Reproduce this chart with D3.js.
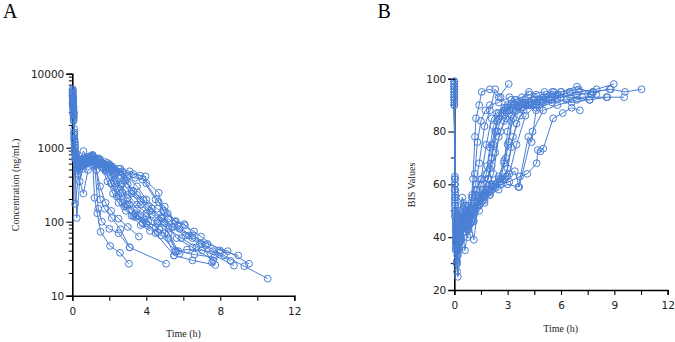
<!DOCTYPE html>
<html><head><meta charset="utf-8">
<script src="https://cdn.jsdelivr.net/npm/d3@7"></script>
<style>
html,body{margin:0;padding:0;background:#fff;}
svg{display:block;}
.tick text{font-family:"DejaVu Sans",sans-serif;font-size:10.5px;fill:#222;}
.title{font-family:"Liberation Serif","Times New Roman",serif;font-size:10px;fill:#222;}
.panel{font-family:"Liberation Serif","Times New Roman",serif;font-size:20px;fill:#000;}
</style></head>
<body>
<script>
// ---------- Panel A: concentration (ng/mL) vs time (h), one row per subject ----------
const pkTimes = [
 [0.02,0.05,0.1,0.2,0.35,0.5,0.7,0.9,1.1,1.2,1.35,1.53,2.04,2.58,3.06],
 [0.03,0.07,0.12,0.24,0.4,0.6,0.85,1.1,1.3,1.5,1.75,2.13,2.6,3.1,5.07],
 [0.02,0.06,0.1,0.15,0.4,0.6,0.8,1.0,1.2,1.4,1.6,2.0,2.5,3.1],
 [0.03,0.08,0.15,0.3,0.5,0.7,1.0,1.25,1.5,1.8,2.1,2.5,3.0,3.6],
 [0.02,0.05,0.1,0.2,0.4,0.6,0.9,1.2,1.5,1.8,2.04,2.3,2.7,3.2,3.7,4.2],
 [0.03,0.07,0.13,0.25,0.45,0.7,1.0,1.3,1.6,1.9,2.2,2.5,2.9,3.4,4.0,4.6],
 [0.02,0.06,0.12,0.2,0.35,0.6,0.9,1.2,1.5,1.8,2.1,2.4,2.8,3.3,3.8,4.5,5.5],
 [0.03,0.05,0.1,0.18,0.3,0.5,0.8,1.1,1.4,1.7,2.0,2.3,2.6,3.0,3.5,4.0,4.8,5.6],
 [0.02,0.07,0.14,0.3,0.6,0.9,1.2,1.5,1.9,2.3,2.7,3.1,3.6,4.1,4.7,5.2,5.8],
 [0.03,0.08,0.15,0.3,0.5,0.8,1.1,1.4,1.8,2.2,2.6,3.0,3.4,3.8,4.5,5.0,5.7,6.5],
 [0.02,0.06,0.12,0.25,0.5,0.8,1.1,1.5,2.0,2.6,3.1,3.66,4.67,4.9,5.55,6.09,6.58,6.96,7.98,8.97],
 [0.03,0.07,0.14,0.3,0.6,0.9,1.2,1.6,2.1,2.7,3.3,3.96,4.0,4.67,4.96,5.16,5.59,6.05,7.0,7.55],
 [0.02,0.05,0.1,0.2,0.4,0.7,1.0,1.3,1.7,2.1,2.5,2.9,3.3,3.85,4.3,5.0,5.64,6.5,7.62],
 [0.03,0.08,0.15,0.3,0.5,0.8,1.1,1.4,1.8,2.2,2.6,3.0,3.5,4.0,4.6,5.2,5.73,6.6,7.66],
 [0.02,0.06,0.12,0.25,0.5,0.75,1.0,1.3,1.7,2.1,2.5,2.9,3.4,3.9,4.5,5.0,5.5,6.5,7.73],
 [0.03,0.07,0.13,0.25,0.5,0.8,1.1,1.5,1.9,2.3,2.8,3.2,3.7,4.2,4.8,5.4,6.1,6.9,7.6,8.56],
 [0.02,0.05,0.11,0.2,0.4,0.7,1.0,1.4,1.8,2.2,2.6,3.0,3.5,4.0,4.6,5.2,5.9,6.7,7.7,8.74],
 [0.03,0.06,0.12,0.25,0.5,0.8,1.1,1.5,2.0,2.5,3.0,3.5,4.0,4.6,5.2,5.8,6.5,7.3,8.4,9.55],
 [0.02,0.06,0.12,0.25,0.5,0.8,1.1,1.4,1.8,2.2,2.6,3.0,3.5,4.1,4.8,5.5,6.3,7.2,8.2,9.3,10.56],
 [0.02,0.07,0.14,0.3,0.6,0.85,1.15,1.5,1.9,2.3,2.7,3.2,3.7,4.3,5.0,5.58,6.2,7.0,7.98]
];
const pkConc = [
 [5800,4200,1400,700,560,640,700,760,650,210,130,73,47,38,27],
 [4400,2500,1100,112,350,560,620,690,500,200,150,112,79,45,27],
 [5000,3600,1800,175,520,580,640,700,600,150,100,80,70,45],
 [4800,3000,800,600,700,650,720,580,300,180,140,110,85,63],
 [6200,4000,1600,850,620,700,760,650,600,580,575,300,180,120,90,75],
 [3600,2300,900,480,560,600,680,620,540,350,240,180,140,115,95,72],
 [5400,3200,1200,700,580,520,640,700,600,480,330,220,160,120,95,70,35],
 [4200,3000,1300,800,450,620,700,780,640,560,470,330,240,170,120,95,65,40],
 [5000,2800,700,500,900,650,700,640,520,380,250,170,120,100,80,60,37],
 [4600,2700,1000,620,680,740,800,700,580,520,470,420,390,370,200,160,90,60],
 [5600,3400,1200,600,650,700,760,640,560,520,480,420,246,142,100,89,74,63,41,35],
 [4000,2600,900,560,600,680,720,620,540,480,440,410,330,185,134,129,102,93,50,28],
 [6000,4400,1600,800,600,660,740,700,610,560,460,360,260,200,150,100,60,45,30],
 [4500,3000,1100,650,700,620,680,590,500,420,300,210,150,120,95,70,40,36,33],
 [5300,3300,1000,520,580,650,700,620,520,330,230,170,130,105,85,70,35,30,26],
 [4800,2900,1200,700,640,700,760,700,620,500,380,260,190,140,110,85,65,50,40,29.5],
 [5500,3700,1500,750,560,620,680,640,560,450,320,230,170,130,100,80,60,45,35,25.5],
 [4200,2800,1000,600,620,660,720,680,600,520,400,300,200,150,110,80,65,50,40,27],
 [5100,3500,1300,650,600,700,780,720,640,550,420,320,230,160,115,85,65,48,35,25,17],
 [3800,2400,850,430,240,500,560,620,540,430,330,240,170,125,95,40,42,41,38]
];
// ---------- Panel B: BIS values vs time (h) ----------
const bisTimes = [
 [0,0.03,0.08,0.15,0.3,0.5,0.7,0.9,1.05,1.16,1.22,1.4,1.54,2.0,2.5,3.06],
 [0,0.04,0.1,0.2,0.35,0.55,0.8,1.0,1.2,1.4,1.7,2.0,2.3,2.6,3.0,3.5,4.2,5.07],
 [0,0.03,0.07,0.12,0.25,0.45,0.65,0.85,1.0,1.15,1.3,1.5,1.75,2.0,2.5,3.1],
 [0,0.05,0.1,0.18,0.3,0.5,0.75,1.0,1.25,1.5,1.8,2.1,2.4,2.8,3.2,3.6],
 [0,0.03,0.08,0.15,0.3,0.5,0.7,0.95,1.2,1.5,1.8,2.0,2.2,2.5,2.9,3.4,3.8,4.2],
 [0,0.04,0.09,0.16,0.3,0.5,0.7,1.0,1.3,1.6,1.9,2.1,2.4,2.7,3.0,3.5,4.0,4.6],
 [0,0.03,0.07,0.14,0.25,0.45,0.7,0.95,1.2,1.5,1.8,2.0,2.2,2.4,2.8,3.2,3.8,4.5,5.5],
 [0,0.05,0.1,0.2,0.35,0.55,0.8,1.05,1.3,1.6,1.9,2.1,2.3,2.6,2.9,3.3,3.8,4.4,5.0,5.6],
 [0,0.03,0.08,0.15,0.3,0.5,0.75,1.0,1.3,1.6,2.0,2.5,2.8,3.0,3.2,3.6,4.2,5.0,5.8],
 [0,0.04,0.1,0.2,0.4,0.6,0.85,1.1,1.4,1.8,2.2,2.6,2.9,3.05,3.2,3.5,4.0,4.6,5.5,6.5],
 [0,0.03,0.08,0.15,0.3,0.5,0.8,1.1,1.5,2.0,2.5,3.0,3.6,4.16,4.35,4.6,4.9,5.4,6.0,7.0,8.0,8.97],
 [0,0.04,0.1,0.2,0.35,0.6,0.9,1.2,1.6,2.1,2.6,3.1,3.7,4.1,4.63,4.7,4.85,5.0,5.56,6.1,6.6,7.06],
 [0,0.03,0.07,0.13,0.25,0.45,0.7,1.0,1.3,1.7,2.1,2.5,2.8,3.0,3.3,3.7,4.2,4.8,5.5,6.5,7.62],
 [0,0.04,0.09,0.17,0.3,0.5,0.75,1.0,1.3,1.6,1.9,2.2,2.5,2.8,3.1,3.5,4.0,4.7,5.5,6.5,7.66],
 [0,0.03,0.08,0.15,0.3,0.5,0.8,1.05,1.3,1.6,1.9,2.1,2.3,2.5,2.8,3.2,3.7,4.3,5.0,6.0,6.9,7.73],
 [0,0.04,0.1,0.2,0.35,0.55,0.8,1.1,1.4,1.7,2.0,2.3,2.7,3.0,3.3,3.7,4.2,4.8,5.5,6.3,7.2,8.56],
 [0,0.03,0.07,0.14,0.28,0.5,0.75,1.0,1.25,1.55,1.85,2.1,2.4,2.7,3.0,3.4,3.9,4.5,5.2,6.0,7.0,7.8,8.74],
 [0,0.04,0.09,0.16,0.3,0.5,0.8,1.1,1.4,1.8,2.2,2.6,2.9,3.2,3.5,3.9,4.4,5.0,5.8,6.6,7.6,8.6,9.55],
 [0,0.03,0.08,0.15,0.3,0.5,0.75,1.0,1.3,1.6,2.0,2.4,2.8,3.1,3.5,4.0,4.6,5.3,6.0,6.9,7.8,8.8,9.6,10.53],
 [0,0.04,0.1,0.2,0.4,0.6,0.85,1.1,1.4,1.7,2.0,2.3,2.6,3.0,3.4,3.65,4.4,5.0,5.8,6.9,7.98]
];
const bisValues = [
 [97,60,45,38,42,48,44,50,62,78,85,90,95,96,93,98],
 [95,55,40,33,45,52,47,55,60,68,82,88,96,93,90,92,94,95],
 [92,50,36,30,40,46,52,48,56,64,76,84,88,90,91,93],
 [98,62,48,42,50,44,40,47,58,62,75,85,87,89,92,91],
 [96,58,42,35,38,45,50,53,56,60,64,74,82,87,89,92,93,95],
 [93,52,38,27,36,44,48,52,55,58,62,70,80,86,88,90,92,94],
 [99,63,50,44,48,55,50,46,52,55,60,66,75,84,88,90,91,93,95],
 [94,56,41,36,39,42,45,49,52,56,62,67,72,80,85,88,89,90,92,95],
 [90,48,35,31,40,47,44,50,54,58,60,62,68,80,86,89,91,92,94],
 [97,57,46,40,45,35,47,39,55,57,59,62,70,76,84,88,90,89,92,95],
 [95,60,47,40,44,51,46,50,53,56,58,60,59,78,76,88,91,92,93,95,96,98],
 [91,52,40,35,42,48,45,51,54,58,60,61,63,64,68,73,72.5,73.5,85,87,89,88],
 [98,58,44,37,41,46,43,49,53,56,60,63,69,75,85,89,90,92,94,93,92],
 [94,54,39,33,38,44,49,46,52,55,58,64,78,84,88,90,91,92,93,95,94],
 [96,60,46,40,43,48,52,47,53,57,62,70,80,85,88,89,90,91,93,95,97,94],
 [92,55,42,36,40,46,43,49,52,54,57,60,62,66,78,86,90,89,91,92,93,93],
 [99,62,49,43,47,53,49,55,58,62,67,75,84,87,89,90,91,92,94,95,96,95,96],
 [93,53,38,30,35,42,46,50,55,57,60,61,63,74,83,88,90,91,92,91,92,93,93],
 [97,58,43,36,40,47,44,50,53,56,58,60,62,64,75,86,90,92,93,94,95,96,95,96],
 [90,50,37,25,39,44,41,46,50,53,56,59,61,63,65,59,80,88,90,92,94]
];
const xTicksA = [0,2,4,6,8,10,12];
const xLabelsA = [0,4,8,12];
const yMajorA = [10,100,1000,10000];
const xTicksB = [0,1.5,3,4.5,6,7.5,9,10.5,12];
const xLabelsB = [0,3,6,9,12];
const yMajorB = [20,40,60,80,100];
const yMinorB = [30,50,70,90];

const color = "#4a7fd6";
const W = 675, H = 342;
const svg = d3.select("body").append("svg").attr("width", W).attr("height", H);

function drawPanel(o) {
  const g = svg.append("g");
  const xAx = g.append("g").attr("transform", `translate(0,${o.y.range()[0]})`)
    .call(d3.axisBottom(o.x).tickValues(o.xTicks).tickSize(5).tickPadding(7)
      .tickFormat(d => o.xLabels.includes(d) ? d : ""));
  const yAx = g.append("g").attr("transform", `translate(${o.x.range()[0]},0)`)
    .call(d3.axisLeft(o.y).tickValues(o.yMajor).tickSize(6).tickPadding(2).tickFormat(d => d));
  if (o.yMinor) {
    g.append("g").selectAll("line").data(o.yMinor).join("line")
      .attr("x1", o.x.range()[0]).attr("x2", o.x.range()[0] - 3.5)
      .attr("y1", d => o.y(d)).attr("y2", d => o.y(d)).attr("stroke", "#000").attr("stroke-width", 1);
  }
  [xAx, yAx].forEach(a => {
    a.select(".domain").attr("stroke", "#000").attr("stroke-width", 1.6);
    a.selectAll(".tick line").attr("stroke", "#000").attr("stroke-width", 1.1);
  });
  const line = d3.line().x(d => o.x(d[0])).y(d => o.y(d[1]));
  o.times.forEach((ts, i) => {
    const pts = ts.map((t, j) => [t, o.vals[i][j]]);
    g.append("path").datum(pts).attr("d", line).attr("fill", "none")
      .attr("stroke", color).attr("stroke-width", 1);
    g.append("g").selectAll("circle").data(pts).join("circle")
      .attr("cx", d => o.x(d[0])).attr("cy", d => o.y(d[1])).attr("r", 3.4)
      .attr("fill", "none").attr("stroke", color).attr("stroke-width", 1);
  });
  g.append("text").attr("class", "title").attr("text-anchor", "middle")
    .attr("x", o.xt[0]).attr("y", o.xt[1]).text("Time (h)");
  g.append("text").attr("class", "title").attr("text-anchor", "middle")
    .attr("transform", `translate(${o.yt[0]},${o.yt[1]}) rotate(-90)`).text(o.ytitle);
  g.append("text").attr("class", "panel").attr("x", o.lab[0]).attr("y", o.lab[1]).text(o.label);
}

// Panel A
const xA = d3.scaleLinear().domain([0, 12]).range([72.3, 294.3]);
const yA = d3.scaleLog().domain([10, 10000]).range([295.7, 73.7]);
const minorA = [];
[10,100,1000].forEach(b => [2,3,4,5,6,7,8,9].forEach(m => minorA.push(b*m)));
drawPanel({x: xA, y: yA, xTicks: xTicksA, xLabels: xLabelsA, yMajor: yMajorA, yMinor: minorA,
  times: pkTimes, vals: pkConc, xt: [183.5, 337], yt: [18.5, 185],
  ytitle: "Concentration (ng/mL)", label: "A", lab: [3, 18]});

// Panel B
const xB = d3.scaleLinear().domain([0, 12]).range([454.3, 667.7]);
const yB = d3.scaleLinear().domain([20, 100]).range([290, 78.7]);
drawPanel({x: xB, y: yB, xTicks: xTicksB, xLabels: xLabelsB, yMajor: yMajorB, yMinor: yMinorB,
  times: bisTimes, vals: bisValues, xt: [560.7, 332], yt: [415, 185],
  ytitle: "BIS Values", label: "B", lab: [377.5, 18]});
</script>
</body></html>
